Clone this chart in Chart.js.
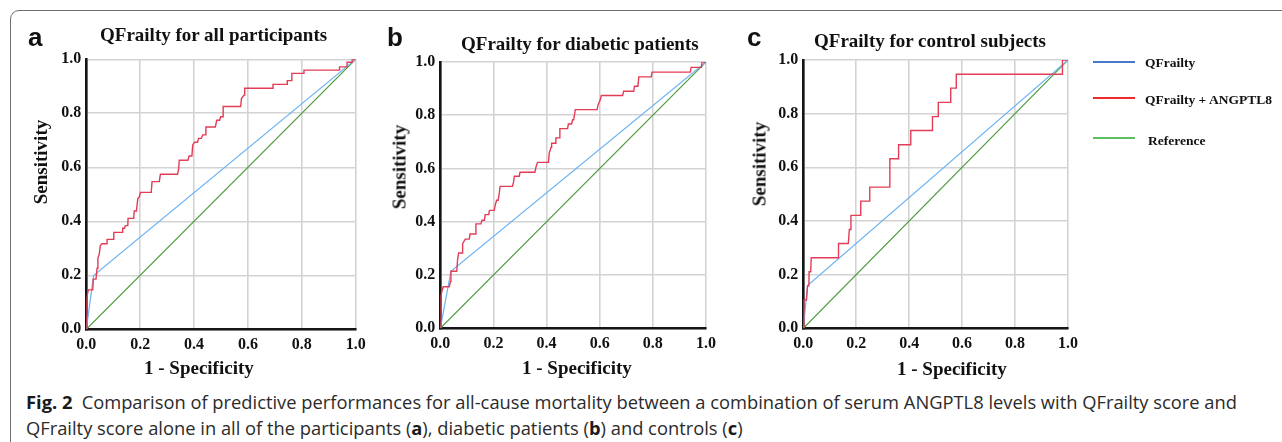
<!DOCTYPE html>
<html>
<head>
<meta charset="utf-8">
<title>QFrailty ROC</title>
<script src="https://cdn.jsdelivr.net/npm/chart.js@4.4.1/dist/chart.umd.min.js"></script>
<style>
  body { margin: 0; background: #fff; width: 1282px; height: 442px; overflow: hidden; position: relative; }
  .frame { position: absolute; left: 10px; top: 10px; width: 1300px; height: 470px; border: 1.5px solid #6e6e6e; border-radius: 9px; }
  canvas { position: absolute; top: 0; }
  .tnr { position: absolute; font-family: 'Liberation Serif', 'Times New Roman', serif; font-weight: bold; color: #111; white-space: nowrap; line-height: 1; }
  .letter { position: absolute; font-family: 'Liberation Sans', Arial, sans-serif; font-weight: bold; font-size: 26px; line-height: 26px; color: #111; }
  .ttl { font-size: 19px; }
  .ylab { font-size: 19px; transform: translate(-50%, -50%) rotate(-90deg); }
  .leg { font-size: 13.5px; }
  .swatch { position: absolute; left: 1093px; width: 42px; height: 2px; }
  .cap { position: absolute; left: 26px; font-family: 'Open Sans', 'Noto Sans', sans-serif; font-size: 18px; line-height: 26px; color: #2b2b2b; white-space: nowrap; transform-origin: 0 0; }
  .cap b { color: #1a1a1a; }
</style>
</head>
<body>
<div class="frame"></div>

<canvas id="rocA" width="372" height="380" style="left:0px"></canvas>
<canvas id="rocB" width="372" height="380" style="left:372px"></canvas>
<canvas id="rocC" width="340" height="380" style="left:744px"></canvas>

<div class="letter" style="left:28px;top:24px">a</div>
<div class="letter" style="left:387px;top:24px">b</div>
<div class="letter" style="left:747px;top:24px">c</div>

<div class="tnr ttl" style="left:100px;top:25px">QFrailty for all participants</div>
<div class="tnr ttl" style="left:461px;top:34px">QFrailty for diabetic patients</div>
<div class="tnr ttl" style="left:814px;top:31px">QFrailty for control subjects</div>

<div class="tnr ylab" style="left:40px;top:162px">Sensitivity</div>
<div class="tnr ylab" style="left:399px;top:167px">Sensitivity</div>
<div class="tnr ylab" style="left:759px;top:164px">Sensitivity</div>

<div class="tnr ttl" style="left:144px;top:358px">1 - Specificity</div>
<div class="tnr ttl" style="left:522px;top:358px">1 - Specificity</div>
<div class="tnr ttl" style="left:897px;top:359px">1 - Specificity</div>

<div class="swatch" style="top:61px;background:#4a78c8"></div>
<div class="swatch" style="top:97px;background:#ee2a2a"></div>
<div class="swatch" style="top:137px;background:#5cbf60"></div>
<div class="tnr leg" style="left:1145px;top:56px">QFrailty</div>
<div class="tnr leg" style="left:1145px;top:93px">QFrailty + ANGPTL8</div>
<div class="tnr leg" style="left:1148px;top:134px">Reference</div>

<div class="cap" id="cap1" style="top:389px"><b>Fig. 2</b>&ensp;Comparison of predictive performances for all-cause mortality between a combination of serum ANGPTL8 levels with QFrailty score and</div>
<div class="cap" id="cap2" style="top:415px">QFrailty score alone in all of the participants (<b>a</b>), diabetic patients (<b>b</b>) and controls (<b>c</b>)</div>

<script>
// axis ticks (both axes, all panels)
const tickValues = [0, 0.2, 0.4, 0.6, 0.8, 1.0];

// reference diagonal
const reference = [[0, 0], [1, 1]];

// QFrailty alone: [1 - specificity, sensitivity]
const qfrailtyA = [[0, 0], [0.027, 0.199], [1, 1]];
const qfrailtyB = [[0, 0], [0.040, 0.214], [1, 1]];
const qfrailtyC = [[0, 0], [0.016, 0.159], [1, 1]];

// QFrailty + ANGPTL8, all participants
const comboA = [
  [0, 0], [0.001, 0.102], [0.004, 0.130], [0.008, 0.146], [0.024, 0.146], [0.026, 0.186], [0.036, 0.186],
  [0.040, 0.226], [0.043, 0.263], [0.048, 0.278], [0.052, 0.310], [0.058, 0.317], [0.077, 0.317], [0.077, 0.333],
  [0.102, 0.333], [0.102, 0.359], [0.133, 0.359], [0.135, 0.374], [0.142, 0.374], [0.145, 0.384], [0.154, 0.384],
  [0.155, 0.411], [0.176, 0.411], [0.178, 0.438], [0.186, 0.438], [0.191, 0.483], [0.197, 0.491], [0.201, 0.507],
  [0.241, 0.507], [0.244, 0.547], [0.271, 0.547], [0.275, 0.574], [0.339, 0.574], [0.343, 0.596], [0.345, 0.626],
  [0.377, 0.626], [0.382, 0.642], [0.392, 0.642], [0.395, 0.683], [0.402, 0.693], [0.413, 0.693], [0.417, 0.707],
  [0.427, 0.707], [0.432, 0.720], [0.442, 0.720], [0.444, 0.749], [0.479, 0.749], [0.484, 0.774], [0.495, 0.774],
  [0.499, 0.787], [0.508, 0.787], [0.508, 0.825], [0.573, 0.825], [0.576, 0.855], [0.586, 0.868], [0.588, 0.893],
  [0.693, 0.893], [0.693, 0.907], [0.746, 0.907], [0.746, 0.921], [0.763, 0.921], [0.763, 0.948], [0.808, 0.948],
  [0.808, 0.960], [0.940, 0.960], [0.940, 0.972], [0.968, 0.972], [0.968, 0.989], [0.987, 0.989], [0.987, 1.0], [1, 1]
];

// QFrailty + ANGPTL8, diabetic patients
const comboB = [
  [0, 0], [0.002, 0.120], [0.006, 0.139], [0.011, 0.156], [0.034, 0.156], [0.038, 0.176], [0.040, 0.214],
  [0.062, 0.214], [0.065, 0.258], [0.069, 0.283], [0.082, 0.283], [0.084, 0.318], [0.094, 0.335], [0.109, 0.335],
  [0.112, 0.354], [0.131, 0.354], [0.134, 0.392], [0.153, 0.392], [0.157, 0.406], [0.166, 0.406], [0.169, 0.427],
  [0.182, 0.427], [0.185, 0.443], [0.203, 0.443], [0.207, 0.464], [0.212, 0.481], [0.218, 0.481], [0.222, 0.508],
  [0.225, 0.533], [0.272, 0.533], [0.276, 0.552], [0.279, 0.571], [0.297, 0.571], [0.300, 0.586], [0.356, 0.586],
  [0.360, 0.605], [0.366, 0.623], [0.407, 0.623], [0.410, 0.658], [0.417, 0.680], [0.419, 0.695], [0.432, 0.695],
  [0.435, 0.715], [0.448, 0.715], [0.450, 0.750], [0.479, 0.750], [0.482, 0.767], [0.494, 0.767], [0.498, 0.783],
  [0.502, 0.783], [0.508, 0.821], [0.590, 0.821], [0.594, 0.840], [0.602, 0.858], [0.606, 0.874], [0.686, 0.874],
  [0.690, 0.890], [0.728, 0.890], [0.731, 0.909], [0.744, 0.909], [0.747, 0.944], [0.794, 0.944], [0.797, 0.962],
  [0.941, 0.962], [0.944, 0.980], [0.983, 0.980], [0.985, 1.0], [1, 1]
];

// QFrailty + ANGPTL8, control subjects
const comboC = [
  [0, 0], [0.002, 0.105], [0.012, 0.105], [0.016, 0.158], [0.021, 0.158], [0.022, 0.211], [0.028, 0.211],
  [0.030, 0.263], [0.133, 0.263], [0.133, 0.316], [0.170, 0.316], [0.174, 0.368], [0.180, 0.368], [0.180, 0.421],
  [0.217, 0.421], [0.217, 0.474], [0.251, 0.474], [0.251, 0.526], [0.327, 0.526], [0.327, 0.632], [0.360, 0.632],
  [0.360, 0.684], [0.406, 0.684], [0.406, 0.737], [0.488, 0.737], [0.488, 0.789], [0.510, 0.789], [0.510, 0.842],
  [0.557, 0.842], [0.557, 0.895], [0.578, 0.895], [0.578, 0.947], [0.979, 0.947], [0.979, 1.0], [1, 1]
];

const tickFont = { family: "'Liberation Serif', 'Times New Roman', serif", size: 16, weight: 'bold' };

function toXY(pairs) {
  return pairs.map(p => ({ x: p[0], y: p[1] }));
}

function axis(fitFn) {
  return {
    type: 'linear',
    min: 0,
    max: 1,
    afterBuildTicks: s => { s.ticks = tickValues.map(v => ({ value: v })); },
    afterFit: fitFn,
    ticks: { padding: 5, color: '#111', font: tickFont, maxRotation: 0, autoSkip: false, callback: v => v.toFixed(1) },
    grid: { color: '#d3d3d3', lineWidth: 1.6, drawTicks: false },
    border: { color: '#151515', width: 2.6 }
  };
}

function makeRoc(id, combo, qf, pad) {
  const xAxis = axis(s => { s.height = 30; });
  xAxis.ticks.padding = 6;
  const yAxis = axis(s => { s.width = 40; });

  new Chart(document.getElementById(id), {
    type: 'scatter',
    data: {
      datasets: [
        { label: 'QFrailty + ANGPTL8', data: toXY(combo), borderColor: '#e23c56', borderWidth: 1.4 },
        { label: 'QFrailty', data: toXY(qf), borderColor: '#6db3f0', borderWidth: 1.2 },
        { label: 'Reference', data: toXY(reference), borderColor: '#4e9a3e', borderWidth: 1.2 }
      ]
    },
    options: {
      responsive: false,
      animation: false,
      devicePixelRatio: 1,
      showLine: true,
      elements: { point: { radius: 0, hoverRadius: 0 }, line: { tension: 0 } },
      layout: { padding: pad },
      plugins: { legend: { display: false }, tooltip: { enabled: false } },
      scales: { x: xAxis, y: yAxis }
    }
  });
}

makeRoc('rocA', comboA, qfrailtyA, { left: 46.3, right: 16.3, top: 59.3, bottom: 20.7 });
makeRoc('rocB', comboB, qfrailtyB, { left: 28.3, right: 38, top: 62, bottom: 21.7 });
makeRoc('rocC', comboC, qfrailtyC, { left: 19.3, right: 13, top: 60, bottom: 21.7 });

// squeeze caption lines to the width they take in the figure
const cap1 = document.getElementById('cap1');
const cap2 = document.getElementById('cap2');
const k = 1211 / cap1.getBoundingClientRect().width;
cap1.style.transform = 'scaleX(' + k + ')';
cap2.style.transform = 'scaleX(' + k + ')';
</script>
</body>
</html>
